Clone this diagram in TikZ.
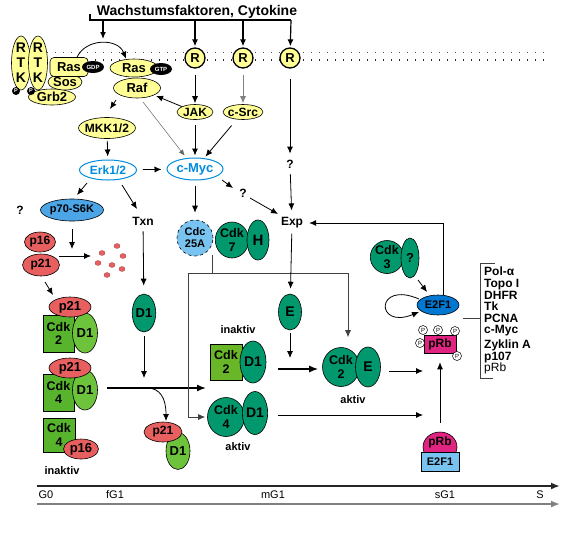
\documentclass[tikz,border=0pt]{standalone}
\usepackage{fontspec}
\setmainfont{Liberation Sans}
\usetikzlibrary{shapes.geometric,arrows.meta}
\definecolor{cyel}{RGB}{255,255,150}
\definecolor{cteal}{RGB}{0,152,108}
\definecolor{cgrn}{RGB}{88,180,45}
\definecolor{cgrn2}{RGB}{105,182,40}
\definecolor{clgr}{RGB}{110,195,60}
\definecolor{cred}{RGB}{232,95,95}
\definecolor{cblue}{RGB}{0,140,220}
\definecolor{cp70}{RGB}{75,165,230}
\definecolor{clb}{RGB}{120,195,240}
\definecolor{ce2f}{RGB}{0,120,210}
\definecolor{cprb}{RGB}{225,35,130}
\begin{document}
\begin{tikzpicture}[x=1pt,y=-1pt,
  every node/.style={inner sep=0pt},
  f/.style={font=\fontsize{#1}{#1}\selectfont\bfseries},
  two/.style={align=center, font=\fontsize{12.5}{13.5}\selectfont\bfseries},
  sz/.style 2 args={minimum width=#1pt, minimum height=#2pt},
  ol/.style={draw, line width=0.6pt},
  yel/.style={ol, ellipse, fill=cyel},
  tealn/.style={ol, ellipse, fill=cteal},
  grbox/.style={ol, rectangle, fill=cgrn},
  lgr/.style={ol, ellipse, fill=clgr},
  redn/.style={ol, ellipse, fill=cred},
  bluo/.style={ellipse, draw=cblue, line width=1pt, fill=white, text=cblue},
  blk/.style={ellipse, fill=black, text=white, font=\fontsize{6}{6}\selectfont\bfseries},
  pb/.style={circle, fill=black, text=white, minimum size=8, font=\fontsize{5.5}{5.5}\selectfont\bfseries},
  pw/.style={circle, draw, line width=0.5pt, fill=white, minimum size=9, font=\fontsize{6}{6}\selectfont},
  rdot/.style={ellipse, fill=cred, draw=cred!70!black, line width=0.3pt, minimum width=6, minimum height=5},
  arr/.style={-{Latex[length=7pt,width=6pt]}, line width=0.8pt},
  tarr/.style={-{Latex[length=9pt,width=7pt]}, line width=1.5pt},
  ln/.style={line width=0.8pt, black!75},
  lab/.style={font=\fontsize{11}{11}\selectfont\bfseries},
  tl/.style={font=\fontsize{11}{11}\selectfont},
]
\fill[white] (0,0) rectangle (575,539);
\useasboundingbox (0,0) rectangle (575,539);

% membrane
\coordinate (m1a) at (47,52); \coordinate (m1b) at (545,52);
\coordinate (m2a) at (47,60); \coordinate (m2b) at (545,60);
\draw[line width=1pt, dash pattern=on 1.2pt off 6.8pt, black!70] (m1a) -- (m1b);
\draw[line width=1.4pt, dash pattern=on 1.4pt off 6.6pt, black!85] (m2a) -- (m2b);

% title and bar
\node[f=14] (title) at (197,12) {Wachstumsfaktoren, Cytokine};
\coordinate (barL) at (90,14); \coordinate (barR) at (291,20);
\draw[line width=1.3pt] (barL) |- (barR);
\coordinate (b1) at (103,20); \coordinate (b1e) at (103,39);
\coordinate (b2) at (195,20); \coordinate (b3) at (243,20);

% receptors
\node[yel, circle, minimum size=20, line width=1.3pt, f=13] (R1) at (195,58) {R};
\node[yel, circle, minimum size=20, line width=1.3pt, f=13] (R2) at (243,58) {R};
\node[yel, circle, minimum size=20, line width=1.3pt, f=13] (R3) at (290,58) {R};

\node[yel, sz={19}{54}] (rtk1) at (21,63) {};
\node[yel, sz={19}{54}] (rtk2) at (38,63) {};
\node[align=center, font=\fontsize{14}{15}\selectfont\bfseries] (rtk1t) at (rtk1) {R\\T\\K};
\node[align=center, font=\fontsize{14}{15}\selectfont\bfseries] (rtk2t) at (rtk2) {R\\T\\K};
\node[yel, sz={47}{16}, f=13] (grb) at (52,97) {Grb2};
\node[yel, sz={34}{16}, f=13] (sos) at (65,82) {Sos};
\node[ol, fill=cyel, rectangle, rounded corners=4pt, sz={38}{19}, f=13] (ras1) at (69,67) {Ras};
\node[blk, sz={22}{12}] (gdp) at (93,67) {GDP};
\node[pb] (p1) at (16,91) {P};
\node[pb] (p2) at (31,91) {P};

\node[yel, sz={48}{18}, f=13] (ras2) at (134,68) {Ras};
\node[blk, sz={22}{12}] (gtp) at (161,69) {GTP};
\node[yel, sz={47}{20}, f=13] (raf) at (137,88) {Raf};

\node[yel, sz={36}{15}, f=12] (jak) at (195,112) {JAK};
\node[yel, sz={40}{15}, f=12, inner xsep=-2pt] (csrc) at (243,112) {c-Src};
\node[yel, sz={57}{21}, f=12, inner xsep=-3pt] (mkk) at (107,128) {MKK1/2};
\node[bluo, sz={57}{20}, f=12] (erk) at (108,170) {Erk1/2};
\node[bluo, sz={56}{22}, f=13] (myc) at (195,169) {c-Myc};
\node[ol, ellipse, fill=cp70, sz={63}{22}, f=11] (p70) at (72,210) {p70-S6K};

\node[f=12] (q0) at (20,210) {?};
\node[f=12, inner sep=2pt] (txn) at (143,221) {Txn};
\node[f=12, inner sep=2pt] (q1) at (290,164) {?};
\node[f=12, inner sep=2pt] (q2) at (243,193) {?};
\node[f=12, inner sep=2pt] (exp) at (292,223) {Exp};

\node[circle, draw, dashed, line width=0.6pt, fill=clb, minimum size=36, align=center, font=\fontsize{11}{12}\selectfont\bfseries] (cdc) at (195,238) {Cdc\\25A};
\node[tealn, sz={32}{36}, two] (cdk7) at (232,240) {Cdk\\7};
\node[tealn, sz={22}{40}, f=15] (h) at (258,240) {H};

% left inhibitors
\node[redn, sz={31}{20}, f=12] (p16) at (40,242) {p16};
\node[redn, sz={37}{22}, f=12] (p21) at (41,265) {p21};
\node[rdot] (rd1) at (117,246) {};
\node[rdot] (rd2) at (102,253) {};
\node[rdot] (rd3) at (123,256) {};
\node[rdot] (rd4) at (98,263) {};
\node[rdot] (rd5) at (112,265) {};
\node[rdot] (rd6) at (122,269) {};
\node[rdot] (rd7) at (107,275) {};

% complexes left
\node[grbox, sz={31}{37}, two] (ck2b) at (58.5,333.5) {Cdk\\2};
\node[lgr, sz={25}{40}, f=13] (d1b) at (85,333) {D1};
\node[redn, sz={42}{20}, f=13] (p21b) at (70,307) {p21};
\node[grbox, sz={31}{37}, two] (ck4b) at (58.5,392.5) {Cdk\\4};
\node[lgr, sz={25}{40}, f=13] (d1c) at (85,390) {D1};
\node[redn, sz={42}{20}, f=13] (p21d) at (70,368) {p21};
\node[grbox, sz={32}{34}, two] (ck4c) at (59,435) {Cdk\\4};
\node[redn, sz={35}{20}, f=13] (p16c) at (81,449) {p16};
\node[lab] (inak1) at (62,471) {inaktiv};

\node[tealn, sz={23}{38}, f=13] (d1t) at (144,313) {D1};
\node[lgr, sz={24}{37}, f=13] (d1e) at (178,451) {D1};
\node[redn, sz={38}{20}, f=12] (p21e) at (163,432) {p21};

% middle complexes
\node[lab] (inak2) at (238,330) {inaktiv};
\node[grbox, fill=cgrn2, sz={32}{36}, two] (ck2i) at (226,362) {Cdk\\2};
\node[tealn, sz={26}{42}, f=14] (d1i) at (253,362) {D1};
\node[tealn, sz={37}{39}, two] (ck4a) at (226,417) {Cdk\\4};
\node[tealn, sz={25}{43}, f=14] (d1a) at (255,413) {D1};
\node[lab] (ak1) at (238,447) {aktiv};
\node[tealn, sz={37}{39}, two] (ck2a) at (341,367) {Cdk\\2};
\node[tealn, sz={25}{40}, f=14] (ee) at (368,367) {E};
\node[lab] (ak2) at (353,400) {aktiv};
\node[tealn, sz={23}{36}, f=14] (e1) at (290,312) {E};

% right side
\node[tealn, sz={32}{33}, two] (ck3) at (387,257) {Cdk\\3};
\node[tealn, sz={18}{40}, f=13] (q3) at (410,258) {?};
\node[ol, ellipse, fill=ce2f, sz={42}{20}, f=11] (e2f) at (438,305) {E2F1};
\node[ol, rectangle, fill=cprb, sz={32}{18}, f=12] (prb) at (440,344) {pRb};
\node[pw] (pc1) at (423,330) {P};
\node[pw] (pc2) at (438,330) {P};
\node[pw] (pc3) at (455,331) {P};
\node[pw] (pc4) at (420,343) {P};
\node[pw] (pc5) at (457,356) {P};

\node[ol, ellipse, fill=cprb, sz={34}{30}] (prb2) at (440,447) {};
\node[f=12] (prb2t) at (440,442) {pRb};
\node[ol, rectangle, fill=clb, sz={38}{19}, f=11] (e2fb) at (440,462) {E2F1};

\node[anchor=north west, align=left, font=\fontsize{12}{11.6}\selectfont\bfseries] (genes) at (484,267) {Pol-α\\Topo I\\DHFR\\Tk\\PCNA\\c-Myc\\[3pt]Zyklin A\\p107\\{\mdseries pRb}};
\coordinate (brT) at (495,263); \coordinate (brTL) at (480,263);
\coordinate (brBL) at (480,378); \coordinate (brB) at (493,378);
\draw[ln] (brT) -- (brTL) -- (brBL) -- (brB);
\coordinate (glS) at (463,318); \coordinate (glE) at (480,318);
\draw[ln] (glS) -- (glE);

% connectors top
\draw[arr, line width=1.2pt] (b1) -- (b1e);
\draw[arr, line width=1.2pt, shorten >=1pt] (b2) -- (R1);
\draw[arr, line width=1.2pt, shorten >=1pt] (b3) -- (R2);
\draw[arr, line width=1.2pt, shorten >=1pt] (barR) -- (R3);
\draw[arr] ([shift={(8,0)}]ras1.north) .. controls (86,38) and (118,38) .. ([shift={(-8,0)}]ras2.north);

\draw[arr, shorten <=6pt, shorten >=1pt] (R1) -- (jak);
\draw[arr, black!50, shorten <=6pt, shorten >=1pt] (R2) -- (csrc);
\draw[arr, shorten <=10pt, shorten >=4pt] (R3) -- (q1);
\draw[arr, shorten <=4pt, shorten >=5pt] (q1) -- (exp);
\draw[arr, shorten >=2pt] (jak) -- (raf);
\draw[arr] ([shift={(-21,12)}]raf.center) -- ([shift={(3,-19)}]mkk.center);
\draw[-{Latex[length=6pt,width=5pt]}, line width=0.5pt, black!60, shorten >=3pt] ([shift={(6,14)}]raf.center) -- (myc);
\draw[arr, shorten <=5pt, shorten >=2pt] (jak) -- (myc);
\draw[arr, shorten <=8pt, shorten >=2pt] (csrc) -- (myc);
\draw[arr, shorten <=2pt, shorten >=3pt] (mkk) -- (erk);
\draw[arr, shorten <=6pt, shorten >=5pt] (erk) -- (myc);
\draw[arr] ([shift={(-21,13)}]erk.center) -- ([shift={(5,-15)}]p70.center);
\draw[arr] ([shift={(14,15)}]erk.center) -- ([shift={(-6,-12)}]txn.center);
\draw[arr] ([shift={(27,11)}]myc.center) -- ([shift={(-10,-5)}]q2.center);
\draw[arr] ([shift={(7,5)}]q2.center) -- ([shift={(-14,-9)}]exp.center);
\draw[arr, shorten <=5pt, shorten >=7pt] (myc) -- (cdc);
\draw[arr, shorten <=4pt, shorten >=8pt] (txn) -- (d1t);

% connectors left
\coordinate (p70e) at (72,249);
\draw[arr, shorten <=8pt] (p70) -- (p70e);
\coordinate (dotsIn) at (91,256);
\draw[arr] ([shift={(18,-9)}]p21.center) -- (dotsIn);
\draw[arr] ([shift={(4,17)}]p21.center) -- ([shift={(-17,-12)}]p21b.center);
\coordinate (d1te) at (144,378);
\draw[arr, shorten <=4pt] (d1t) -- (d1te);
\coordinate (thE) at (206,388);
\draw[tarr] ([shift={(22,-2)}]d1c.center) -- (thE);
\coordinate (cvS) at (147,388);
\draw[arr] (cvS) .. controls (160,388) and (166,398) .. ([shift={(3,-11)}]p21e.center);

% Cdc25A / Cdk7 junction
\coordinate (jx) at (212,255); \coordinate (jl) at (188,273); \coordinate (jr) at (348,273);
\draw[ln] (jx) |- (jl);
\draw[ln] (jl) -- (jr);
\draw[arr, ln, shorten >=2pt] (jl) |- (ck4a.west);
\draw[arr, ln, shorten >=10pt] (jr) -- (jr |- ck2a.north);

% middle
\draw[arr, shorten <=3pt, shorten >=5pt] (exp) -- (e1);
\coordinate (e1e) at (290,358);
\draw[arr, shorten <=3pt] (e1) -- (e1e);
\draw[tarr, shorten <=12pt, shorten >=4pt] ([shift={(0,7)}]d1i.east) -- ([shift={(0,2)}]ck2a.west);
\coordinate (prbA) at (423,371);
\draw[arr] ([shift={(8,4)}]ee.east) -- (prbA);
\coordinate (prbB) at (423,415);
\draw[arr] ([shift={(10,2)}]d1a.east) -- (prbB);
\draw[arr, shorten <=9pt, shorten >=9pt] (prb2.north) -- (prb.south);

% right
\draw[arr, shorten >=4pt] ([shift={(5,0)}]e2f.north) |- (exp.east);
\draw[arr] ([shift={(8,22)}]q3.center) -- ([shift={(-11,-13)}]e2f.center);
\draw[arr] ([shift={(-19,-6)}]e2f.center) .. controls (375,280) and (375,330) .. ([shift={(-19,7)}]e2f.center);

% timeline
\coordinate (t1a) at (37,486); \coordinate (t1b) at (560,486);
\coordinate (t2a) at (37,504); \coordinate (t2b) at (560,504);
\draw[-{Latex[length=9pt,width=7pt]}, line width=1.8pt, black!85] (t1a) -- (t1b);
\draw[-{Latex[length=9pt,width=7pt]}, line width=1.8pt, black!50] (t2a) -- (t2b);
\node[tl] (g0) at (46,495) {G0};
\node[tl] (fg1) at (115,495) {fG1};
\node[tl] (mg1) at (273,495) {mG1};
\node[tl] (sg1) at (445,495) {sG1};
\node[tl] (sph) at (540,495) {S};
\end{tikzpicture}
\end{document}
